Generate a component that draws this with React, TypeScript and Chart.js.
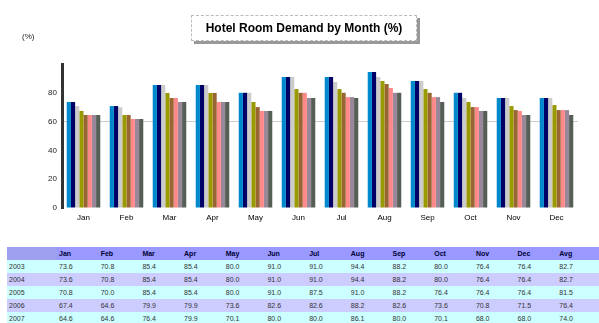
import React, { useEffect, useRef } from "react";
import { Chart, registerables } from "chart.js";

Chart.register(...registerables);

const months = ["Jan", "Feb", "Mar", "Apr", "May", "Jun", "Jul", "Aug", "Sep", "Oct", "Nov", "Dec"];
const seriesNames = ["2003", "2004", "2005", "2006", "2007", "2008", "2009", "2010"];

const s2003 = [73.6, 70.8, 85.4, 85.4, 80.0, 91.0, 91.0, 94.4, 88.2, 80.0, 76.4, 76.4];
const s2004 = [73.6, 70.8, 85.4, 85.4, 80.0, 91.0, 91.0, 94.4, 88.2, 80.0, 76.4, 76.4];
const s2005 = [70.8, 70.0, 85.4, 85.4, 80.0, 91.0, 87.5, 91.0, 88.2, 76.4, 76.4, 76.4];
const s2006 = [67.4, 64.6, 79.9, 79.9, 73.6, 82.6, 82.6, 88.2, 82.6, 73.6, 70.8, 71.5];
const s2007 = [64.6, 64.6, 76.4, 79.9, 70.1, 80.0, 80.0, 86.1, 80.0, 70.1, 68.0, 68.0];
const s2008 = [64.6, 61.8, 76.4, 73.6, 67.4, 80.0, 77.0, 83.3, 77.0, 70.1, 67.4, 68.0];
const s2009 = [64.6, 61.8, 73.6, 73.6, 67.4, 76.4, 77.0, 80.0, 77.0, 67.4, 64.6, 68.0];
const s2010 = [64.6, 61.8, 73.6, 73.6, 67.4, 76.4, 76.4, 80.0, 73.6, 67.4, 64.6, 64.6];

const seriesValues = [s2003, s2004, s2005, s2006, s2007, s2008, s2009, s2010];
const seriesColors = ["#0088cc", "#000066", "#cccccc", "#999900", "#996633", "#ff8888", "#998899", "#555f55"];

const yTicks = [0, 20, 40, 60, 80];

export default function App() {
  const ref = useRef<HTMLCanvasElement | null>(null);

  useEffect(() => {
    if (!ref.current) return;
    const chart = new Chart(ref.current, {
      type: "bar",
      data: {
        labels: months,
        datasets: seriesValues.map((vals, i) => ({
          label: seriesNames[i],
          data: vals,
          backgroundColor: seriesColors[i],
          borderWidth: 0,
          categoryPercentage: 0.78,
          barPercentage: 1.0,
        })),
      },
      options: {
        responsive: false,
        animation: false,
        layout: { padding: { left: 0, right: 21, top: 64, bottom: 12 } },
        plugins: { legend: { display: false }, title: { display: false }, tooltip: { enabled: false } },
        scales: {
          x: {
            grid: { display: false, drawTicks: false, tickLength: 0 },
            border: { display: false },
            ticks: { color: "#000", font: { size: 8, family: "Arial" }, padding: 5, maxRotation: 0 },
            afterFit: (s: any) => { s.height = 20; },
          },
          y: {
            min: 0,
            max: 100,
            afterBuildTicks: (s: any) => {
              s.ticks = yTicks.concat([100]).map((v) => ({ value: v }));
            },
            ticks: {
              color: "#222",
              font: { size: 8, family: "Arial" },
              padding: 5,
              callback: (v: any) => (yTicks.includes(Number(v)) ? String(v) : ""),
            },
            grid: {
              color: (c: any) => (c.tick && c.tick.value === 60 ? "#cccccc" : "transparent"),
              drawTicks: false,
            },
            border: { display: true, color: "#333", width: 3 },
            afterFit: (s: any) => { s.width = 62; },
          },
        },
      },
    });
    return () => chart.destroy();
  }, []);

  const cellBase: React.CSSProperties = {
    fontFamily: "Arial, sans-serif",
    fontSize: 7,
    height: 13,
    padding: "0 2px",
    whiteSpace: "nowrap",
    overflow: "hidden",
  };

  return (
    <div style={{ position: "absolute", left: 0, top: 0, width: 599, height: 323, overflow: "hidden", background: "#fff" }}>
      <canvas ref={ref} width={599} height={240} style={{ position: "absolute", left: 0, top: 0 }} />
      <div
        style={{
          position: "absolute",
          left: 191,
          top: 15,
          width: 224,
          height: 24,
          border: "1px dashed #bbbbbb",
          boxShadow: "3px 3px 0 #999999",
          background: "#fff",
          fontFamily: "Arial, sans-serif",
          fontWeight: "bold",
          fontSize: 12,
          lineHeight: "24px",
          textAlign: "center",
          color: "#000",
        }}
      >
        Hotel Room Demand by Month (%)
      </div>
      <div style={{ position: "absolute", left: 22, top: 32, fontFamily: "Arial, sans-serif", fontSize: 8, color: "#222" }}>(%)</div>
      <table
        style={{
          position: "absolute",
          left: 7,
          top: 247,
          width: 592,
          borderCollapse: "collapse",
          tableLayout: "fixed",
        }}
      >
        <colgroup>
          <col style={{ width: 50 }} />
          {months.map((m) => (
            <col key={m} />
          ))}
          <col />
        </colgroup>
        <tbody>
          <tr style={{ background: "#9999ff" }}>
            <td style={{ ...cellBase, background: "#a0a0f0" }}></td>
            {months.map((m) => (
              <td key={m} style={{ ...cellBase, color: "#000033", fontWeight: "bold" }}>{m}</td>
            ))}
            <td style={{ ...cellBase, color: "#000033", fontWeight: "bold" }}>Avg</td>
          </tr>
          {seriesValues.map((vals, i) => (
            <tr key={i} style={{ background: i % 2 === 0 ? "#ccffff" : "#ccccff" }}>
              <td style={{ ...cellBase, color: "#333" }}>{seriesNames[i]}</td>
              {vals.map((v, j) => (
                <td key={j} style={{ ...cellBase, color: "#333" }}>{v.toFixed(1)}</td>
              ))}
              <td style={{ ...cellBase, color: "#333" }}>
                {(vals.reduce((a, b) => a + b, 0) / vals.length).toFixed(1)}
              </td>
            </tr>
          ))}
        </tbody>
      </table>
    </div>
  );
}
